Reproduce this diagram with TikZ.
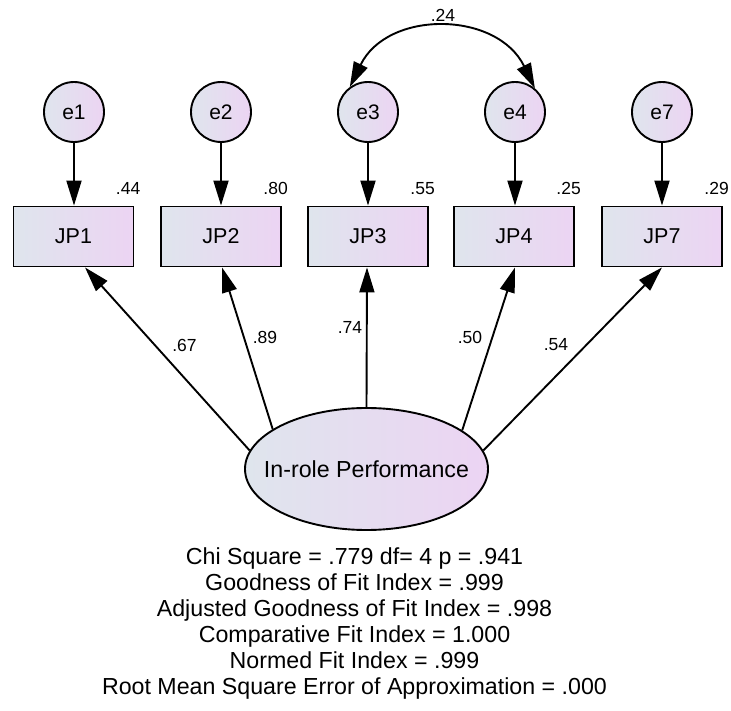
\documentclass[tikz,border=0pt]{standalone}
\usepackage{fontspec}
\setmainfont{Liberation Sans}
\usetikzlibrary{arrows.meta,shapes.geometric}
\definecolor{fillL}{RGB}{223,229,237}
\definecolor{fillR}{RGB}{236,212,243}
\tikzset{
  shaded/.style={draw=black,line width=1.9pt,left color=fillL,right color=fillR},
  errnode/.style={shaded,circle,minimum size=60pt,inner sep=0pt,font=\fontsize{21}{24}\selectfont},
  obsnode/.style={shaded,rectangle,minimum width=120pt,minimum height=60pt,inner sep=0pt,font=\fontsize{21.5}{25}\selectfont},
  latnode/.style={shaded,ellipse,minimum width=243pt,minimum height=122pt,inner sep=0pt,font=\fontsize{23.2}{26}\selectfont},
  coef/.style={font=\fontsize{17.5}{20}\selectfont,inner sep=0pt},
  fitline/.style={font=\fontsize{23.2}{26}\selectfont,inner sep=0pt,anchor=base},
  path arrow/.style={line width=1.9pt,-{Triangle[length=25pt,width=15pt]}},
  cov arrow/.style={line width=1.9pt,{Triangle[length=25pt,width=15pt]}-{Triangle[length=25pt,width=15pt]}}
}
\begin{document}
\begin{tikzpicture}[x=1pt,y=1pt]
\useasboundingbox (0,0) rectangle (731,710);

% error terms
\node[errnode] (e1) at (74,598) {e1};
\node[errnode] (e2) at (221,598) {e2};
\node[errnode] (e3) at (368,598) {e3};
\node[errnode] (e4) at (515,598) {e4};
\node[errnode] (e7) at (662,598) {e7};

% observed indicators
\node[obsnode] (jp1) at (73.5,473.5) {JP1};
\node[obsnode] (jp2) at (221,473.5) {JP2};
\node[obsnode] (jp3) at (368,473.5) {JP3};
\node[obsnode] (jp4) at (514,473.5) {JP4};
\node[obsnode] (jp7) at (662,473.5) {JP7};

% latent factor (label boxed at zero width so the ellipse keeps its set size)
\node[latnode] (ip) at (366.5,241) {\makebox[0pt]{In-role Performance}};

% error paths
\draw[path arrow] (e1.south) -- (e1.south |- jp1.north);
\draw[path arrow] (e2.south) -- (e2.south |- jp2.north);
\draw[path arrow] (e3.south) -- (e3.south |- jp3.north);
\draw[path arrow] (e4.south) -- (e4.south |- jp4.north);
\draw[path arrow] (e7.south) -- (e7.south |- jp7.north);

% error covariance
\draw[cov arrow] (e3.126) to[out=64,in=116,looseness=1.19] (e4.50);
\node[coef] (c34) at (443,695) {.24};

% squared multiple correlations
\node[coef,anchor=base east] (r1) at ([xshift=6pt,yshift=11pt]jp1.north east) {.44};
\node[coef,anchor=base east] (r2) at ([xshift=6pt,yshift=11pt]jp2.north east) {.80};
\node[coef,anchor=base east] (r3) at ([xshift=6pt,yshift=11pt]jp3.north east) {.55};
\node[coef,anchor=base east] (r4) at ([xshift=6pt,yshift=11pt]jp4.north east) {.25};
\node[coef,anchor=base east] (r7) at ([xshift=6pt,yshift=11pt]jp7.north east) {.29};

% factor loadings
\draw[path arrow] (ip.171.7) -- ([xshift=11.5pt]jp1.south);
\draw[path arrow] (ip.157.8) -- ([xshift=1pt]jp2.south);
\draw[path arrow] (ip.90) -- ([xshift=-1pt]jp3.south);
\draw[path arrow] (ip.22.6) -- ([xshift=1pt]jp4.south);
\draw[path arrow] (ip.9.3) -- (jp7.south);

\node[coef] (l1) at (184.5,365) {.67};
\node[coef] (l2) at (265,373) {.89};
\node[coef] (l3) at (350,383) {.74};
\node[coef] (l4) at (470,373) {.50};
\node[coef] (l7) at (556,365) {.54};

% fit statistics
\node[fitline] (f1) at (354.5,146) {Chi Square = .779 df= 4 p = .941};
\node[fitline] (f2) at (354.5,120) {Goodness of Fit Index = .999};
\node[fitline] (f3) at (354.5,94) {Adjusted Goodness of Fit Index = .998};
\node[fitline] (f4) at (354.5,68) {Comparative Fit Index = 1.000};
\node[fitline] (f5) at (354.5,42) {Normed Fit Index = .999};
\node[fitline] (f6) at (354.5,16) {Root Mean Square Error of Approximation = .000};
\end{tikzpicture}
\end{document}
